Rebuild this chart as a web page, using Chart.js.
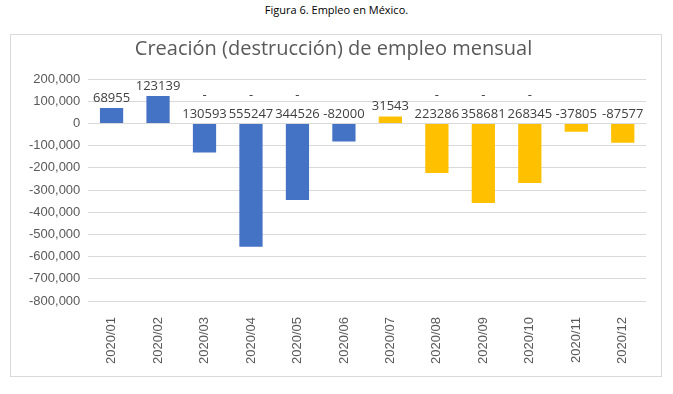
<!DOCTYPE html>
<html>
<head>
<meta charset="utf-8">
<script src="https://cdn.jsdelivr.net/npm/chart.js@4"></script>
<style>
  body { margin: 0; background: #fff; width: 673px; height: 394px; position: relative; overflow: hidden; }
  #caption { position: absolute; left: 0; top: 2px; width: 673px; text-align: center;
    font-family: "Open Sans", sans-serif; font-size: 11px; color: #000; }
  #box { position: absolute; left: 10px; top: 34px; width: 652px; height: 343px;
    border: 1px solid #d9d9d9; box-sizing: border-box; }
  canvas { position: absolute; left: 0; top: 0; }
</style>
</head>
<body>
<div id="caption">Figura 6. Empleo en México.</div>
<div id="box"><canvas id="chart" width="650" height="341"></canvas></div>
<script>
const months = ["2020/01", "2020/02", "2020/03", "2020/04", "2020/05", "2020/06",
                "2020/07", "2020/08", "2020/09", "2020/10", "2020/11", "2020/12"];
const jobs = [68955, 123139, -130593, -555247, -344526, -82000,
              31543, -223286, -358681, -268345, -37805, -87577];
const barColors = ["#4472c4", "#4472c4", "#4472c4", "#4472c4", "#4472c4", "#4472c4",
                   "#ffc000", "#ffc000", "#ffc000", "#ffc000", "#ffc000", "#ffc000"];
const yMin = -800000;
const yMax = 200000;
const yStep = 100000;

// draw the value labels the way Excel did them
const valueLabels = {
  id: "valueLabels",
  afterDatasetsDraw(chart) {
    const ctx = chart.ctx;
    const meta = chart.getDatasetMeta(0);
    const zero = chart.scales.y.getPixelForValue(0);
    ctx.save();
    ctx.font = "13px 'Open Sans', sans-serif";
    ctx.fillStyle = "#404040";
    ctx.textAlign = "center";
    ctx.textBaseline = "alphabetic";
    meta.data.forEach((bar, i) => {
      const v = jobs[i];
      if (v >= 0) {
        ctx.fillText(String(v), bar.x, bar.y - 6);
      } else if (Math.abs(v) >= 100000) {
        ctx.fillText("-", bar.x, zero - 24);
        ctx.fillText(String(Math.abs(v)), bar.x, zero - 5);
      } else {
        ctx.fillText(String(v), bar.x, zero - 5);
      }
    });
    ctx.restore();
  }
};

new Chart(document.getElementById("chart"), {
  type: "bar",
  data: {
    labels: months,
    datasets: [{
      data: jobs,
      backgroundColor: barColors,
      categoryPercentage: 1,
      barPercentage: 0.5
    }]
  },
  options: {
    responsive: false,
    animation: false,
    layout: { padding: { left: 10, right: 15, top: 0, bottom: 4 } },
    plugins: {
      legend: { display: false },
      tooltip: { enabled: false },
      title: {
        display: true,
        text: "Creación (destrucción) de empleo mensual",
        color: "#595959",
        font: { family: "'Open Sans', sans-serif", size: 20, weight: "normal" },
        padding: { top: 2, bottom: 18 }
      }
    },
    scales: {
      x: {
        grid: { display: false },
        border: { display: false },
        ticks: {
          color: "#595959",
          font: { family: "'Liberation Sans', sans-serif", size: 13 },
          minRotation: 90, maxRotation: 90, padding: 8
        }
      },
      y: {
        min: yMin, max: yMax,
        grid: { color: "#d9d9d9", drawTicks: false },
        border: { display: false },
        ticks: {
          stepSize: yStep,
          color: "#595959",
          padding: 8,
          font: { family: "'Liberation Sans', sans-serif", size: 13 },
          callback: v => v.toLocaleString("en-US")
        }
      }
    }
  },
  plugins: [valueLabels]
});
</script>
</body>
</html>
